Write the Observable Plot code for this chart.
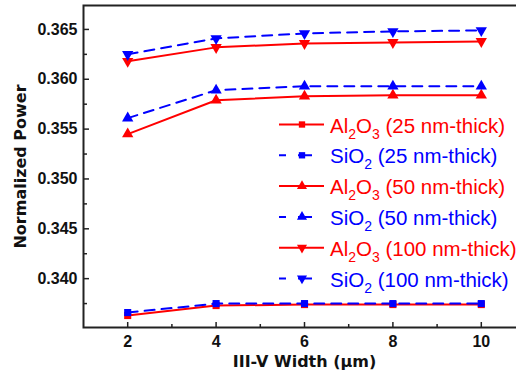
<!DOCTYPE html>
<html><head><meta charset="utf-8">
<script src="https://cdn.jsdelivr.net/npm/d3@7"></script>
<script src="https://cdn.jsdelivr.net/npm/@observablehq/plot@0.6"></script>
<style>
html,body{margin:0;padding:0;background:#fff;overflow:hidden;}
#chart{width:516px;height:380px;overflow:hidden;position:relative;}
#chart svg{max-width:none !important;}
</style></head><body><div id="chart"></div>
<script>
// ---- data ----
const widths = [2, 4, 6, 8, 10];
const al25  = [0.3363, 0.3373, 0.3374, 0.3374, 0.3374];
const si25  = [0.3366, 0.3375, 0.3375, 0.3375, 0.3375];
const al50  = [0.3545, 0.3579, 0.3583, 0.3584, 0.3584];
const si50  = [0.3561, 0.3589, 0.3593, 0.3593, 0.3593];
const al100 = [0.3618, 0.3632, 0.3636, 0.3637, 0.3638];
const si100 = [0.3625, 0.3641, 0.3646, 0.3648, 0.3649];
const materials = ["Al2O3", "SiO2"];
const thicknesses = ["25", "50", "100"];
const xTicks = [2, 4, 6, 8, 10];
const xMinor = [3, 5, 7, 9];
const yTicks = [0.340, 0.345, 0.350, 0.355, 0.360, 0.365];
const yMinor = [0.3375, 0.3425, 0.3475, 0.3525, 0.3575, 0.3625];
const xLabel = "III-V Width (µm)";
const yLabel = "Normalized Power";

const series = [
  {material: "Al2O3", thick: "25",  values: al25},
  {material: "SiO2",  thick: "25",  values: si25},
  {material: "Al2O3", thick: "50",  values: al50},
  {material: "SiO2",  thick: "50",  values: si50},
  {material: "Al2O3", thick: "100", values: al100},
  {material: "SiO2",  thick: "100", values: si100}
];
const colors = {Al2O3: "#ff0000", SiO2: "#0000ff"};

const rows = series.flatMap(s => widths.map((w, i) => ({
  width: w, power: s.values[i], material: s.material, thick: s.thick, key: s.material + s.thick
})));

const triangleDown = {
  draw(context, size) {
    const y = Math.sqrt(size / (3 * Math.sqrt(3)));
    context.moveTo(0, 2 * y);
    context.lineTo(-Math.sqrt(3) * y, -y);
    context.lineTo(Math.sqrt(3) * y, -y);
    context.closePath();
  }
};
const symbols = {"25": d3.symbolSquare, "50": d3.symbolTriangle, "100": triangleDown};
const sizes = {"25": 4, "50": 4.2, "100": 4.2};

function materialMarks(mat, dash) {
  const d = rows.filter(r => r.material === mat);
  const marks = [Plot.line(d, {x: "width", y: "power", z: "key", stroke: colors[mat], strokeWidth: 2, strokeDasharray: dash})];
  for (const t of thicknesses) {
    marks.push(Plot.dot(d.filter(r => r.thick === t), {x: "width", y: "power", fill: colors[mat], symbol: symbols[t], r: sizes[t]}));
  }
  return marks;
}

const tickFont = {fontFamily: "Liberation Sans, Arial, sans-serif", fontWeight: "bold", fontSize: 16, fill: "#111"};

const plot = Plot.plot({
  width: 525, height: 380,
  marginLeft: 83, marginRight: 0, marginTop: 5, marginBottom: 53,
  x: {domain: [1, 11], label: null},
  y: {domain: [0.3351, 0.3674], label: null},
  style: {background: "#fff", overflow: "visible"},
  marks: [
    ...materialMarks("Al2O3", null),
    ...materialMarks("SiO2", "10,7"),
    Plot.frame({stroke: "#222", strokeWidth: 2}),
    Plot.axisX({ticks: xTicks, tickSize: -5, tickPadding: 13, tickFormat: d => String(d), label: null, stroke: "#222", strokeWidth: 1.5, ...tickFont}),
    Plot.axisX({ticks: xMinor, tickSize: -3, tickPadding: 0, tickFormat: () => "", label: null, stroke: "#222", strokeWidth: 1.5}),
    Plot.axisY({ticks: yTicks, tickSize: -6, tickPadding: 12, tickFormat: d3.format(".3f"), label: null, stroke: "#222", strokeWidth: 1.5, ...tickFont}),
    Plot.axisY({ticks: yMinor, tickSize: -4, tickPadding: 0, tickFormat: () => "", label: null, stroke: "#222", strokeWidth: 1.5}),
    Plot.text([yLabel], {text: d => d, frameAnchor: "left", textAnchor: "middle", dx: -63, rotate: -90, fontFamily: "DejaVu Sans", fontWeight: "bold", fontSize: 16, fill: "#111"}),
    Plot.text([xLabel], {text: d => d, frameAnchor: "bottom", dy: 39, fontFamily: "DejaVu Sans", fontWeight: "bold", fontSize: 16, fill: "#111"})
  ]
});
document.getElementById("chart").appendChild(plot);

// ---- legend ----
const svg = d3.select(plot);
const lg = svg.append("g").attr("class", "legend").attr("text-anchor", "start");
const legendSizes = {"25": 40, "50": 44, "100": 44};
series.forEach((s, i) => {
  const yc = 125.5 + i * 30.8;
  const col = colors[s.material];
  const g = lg.append("g");
  g.append("line").attr("x1", 279).attr("x2", 324).attr("y1", yc - 1).attr("y2", yc - 1)
    .attr("stroke", col).attr("stroke-width", 2)
    .attr("stroke-dasharray", s.material === "SiO2" ? "7,12,14,100" : null);
  g.append("path").attr("d", d3.symbol(symbols[s.thick], legendSizes[s.thick])())
    .attr("transform", `translate(302,${yc - 1})`).attr("fill", col);
  const t = g.append("text").attr("x", 330).attr("y", yc + 7).attr("text-anchor", "start")
    .attr("fill", col).attr("font-family", "Liberation Sans, Arial, sans-serif").attr("font-size", 20.5);
  // material name with subscripted digits
  const parts = s.material.match(/[A-Za-z]+|\d+/g);
  let shifted = false;
  for (const p of parts) {
    if (/\d/.test(p)) {
      t.append("tspan").attr("font-size", 14).attr("dy", 6).text(p);
      shifted = true;
    } else {
      t.append("tspan").attr("dy", shifted ? -6 : 0).text(p);
      shifted = false;
    }
  }
  t.append("tspan").attr("dy", shifted ? -6 : 0).text(` (${s.thick} nm-thick)`);
});
</script></body></html>
